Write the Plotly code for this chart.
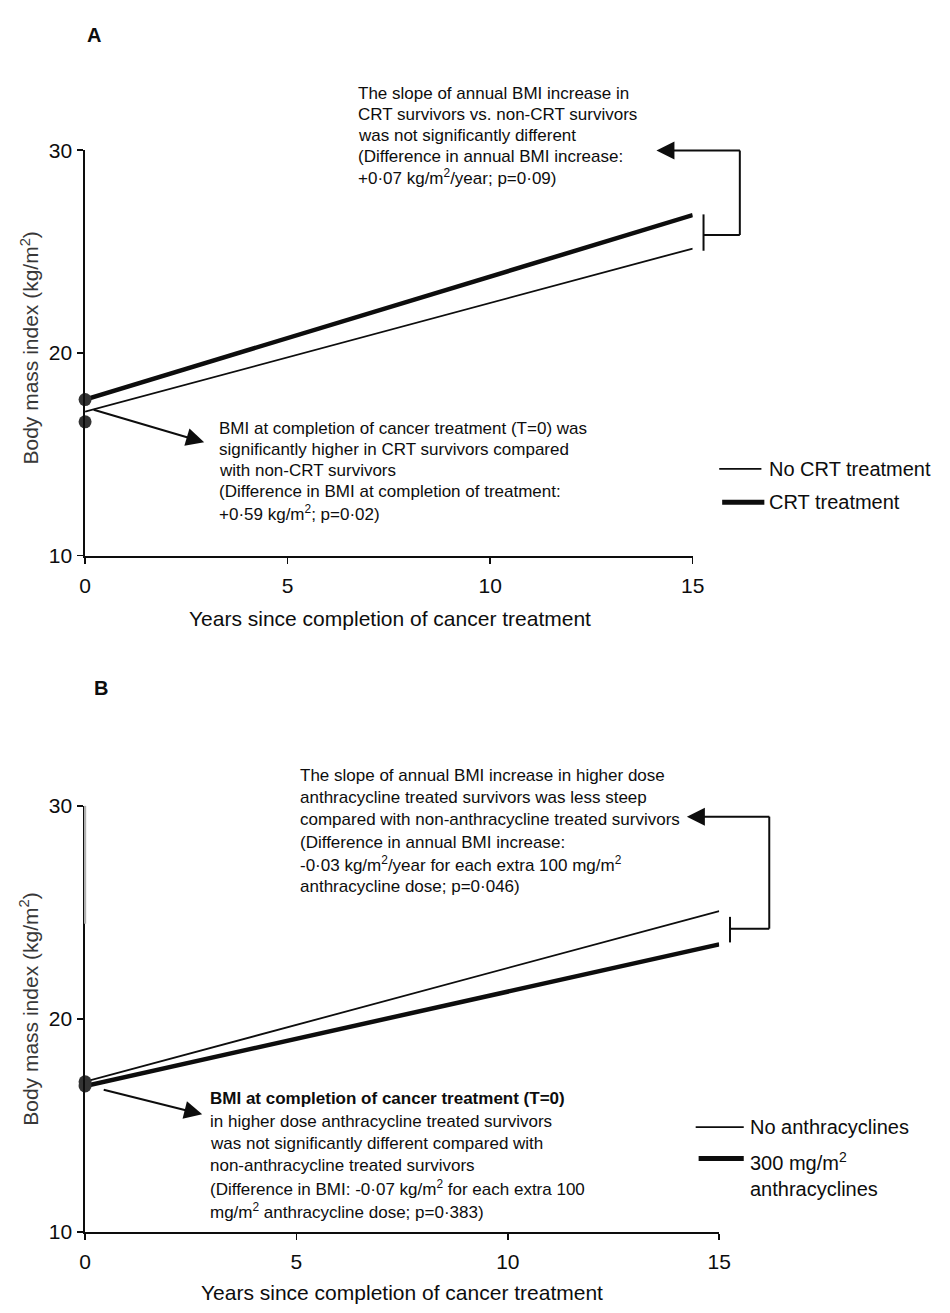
import plotly.graph_objects as go

W, H = 950, 1313

# ---------------- data ----------------
years = [0, 15]
x_ticks = [0, 5, 10, 15]
y_ticks = [10, 20, 30]

# Panel A
bmi_no_crt = [17.1, 25.15]
bmi_crt = [17.7, 26.8]
baseline_dots_a = [17.7, 16.6]

# Panel B
bmi_no_anth = [17.05, 25.06]
bmi_anth_300 = [16.85, 23.5]
baseline_dots_b = [17.05, 16.85]

legend_a = ["No CRT treatment", "CRT treatment"]
legend_b = ["No anthracyclines", "300 mg/m<sup>2</sup><br>anthracyclines"]

# ---------------- helpers ----------------
def px(x):
    return x / W

def py(y):
    return 1 - y / H

FONT = "Liberation Sans, Arial, sans-serif"
INK = "#0d0d0d"

fig = go.Figure()

fig.add_trace(go.Scatter(x=years, y=bmi_no_crt, mode="lines", line=dict(color=INK, width=1.8),
                         xaxis="x", yaxis="y", showlegend=False, cliponaxis=False, hoverinfo="skip"))
fig.add_trace(go.Scatter(x=years, y=bmi_crt, mode="lines", line=dict(color=INK, width=4.5),
                         xaxis="x", yaxis="y", showlegend=False, cliponaxis=False, hoverinfo="skip"))
fig.add_trace(go.Scatter(x=[0, 0], y=baseline_dots_a, mode="markers",
                         marker=dict(color="#333333", size=13), xaxis="x", yaxis="y",
                         showlegend=False, cliponaxis=False, hoverinfo="skip"))

fig.add_trace(go.Scatter(x=years, y=bmi_no_anth, mode="lines", line=dict(color=INK, width=1.8),
                         xaxis="x2", yaxis="y2", showlegend=False, cliponaxis=False, hoverinfo="skip"))
fig.add_trace(go.Scatter(x=years, y=bmi_anth_300, mode="lines", line=dict(color=INK, width=4.5),
                         xaxis="x2", yaxis="y2", showlegend=False, cliponaxis=False, hoverinfo="skip"))
fig.add_trace(go.Scatter(x=[0, 0], y=baseline_dots_b, mode="markers",
                         marker=dict(color="#333333", size=13), xaxis="x2", yaxis="y2",
                         showlegend=False, cliponaxis=False, hoverinfo="skip"))

axis_common = dict(showgrid=False, zeroline=False, showline=True, linecolor=INK,
                   ticks="outside", tickcolor=INK, tickwidth=1.5, ticklen=6,
                   tickfont=dict(family=FONT, size=21, color=INK))

fig.update_layout(
    width=W, height=H, margin=dict(l=0, r=0, t=0, b=0, pad=0),
    paper_bgcolor="white", plot_bgcolor="white",
    xaxis=dict(domain=[px(80.6), px(700)], range=[0, 15], tickvals=x_ticks, anchor="y",
               linewidth=2, ticklabelstandoff=4, **axis_common),
    yaxis=dict(domain=[py(553.3), py(140.7)], range=[10, 30], tickvals=y_ticks, anchor="x",
               linewidth=1.8, ticklabelstandoff=1, **axis_common),
    xaxis2=dict(domain=[px(80.6), px(727)], range=[0, 15], tickvals=x_ticks, anchor="y2",
                linewidth=2, ticklabelstandoff=4, **axis_common),
    yaxis2=dict(domain=[py(1241.7), py(808)], range=[10, 30], tickvals=y_ticks, anchor="x2",
                linewidth=1.8, ticklabelstandoff=1, **axis_common),
)

shapes = []
annos = []

def seg(x0, y0, x1, y1, w=2, color=INK):
    shapes.append(dict(type="line", xref="paper", yref="paper", x0=px(x0), y0=py(y0),
                       x1=px(x1), y1=py(y1), line=dict(color=color, width=w)))

def arrow(tail, tip, w=2, size=1.8):
    annos.append(dict(xref="paper", yref="paper", x=px(tip[0]), y=py(tip[1]),
                      ax=tail[0] - tip[0], ay=tail[1] - tip[1], text="", showarrow=True,
                      arrowhead=2, arrowsize=size, arrowwidth=w, arrowcolor=INK,
                      standoff=0, startstandoff=0))

def text(x, y, s, size=17, xanchor="left", yanchor="middle", angle=0, color=INK, bold=False):
    annos.append(dict(xref="paper", yref="paper", x=px(x), y=py(y), text=(f"<b>{s}</b>" if bold else s),
                      showarrow=False, xanchor=xanchor, yanchor=yanchor, align="left",
                      textangle=angle, font=dict(family=FONT, size=size, color=color)))

def block(x, y_first, spacing, lines, size=17):
    for i, s in enumerate(lines):
        text(x, y_first + i * spacing, s, size=size)

# lighter (scanned) upper part of panel B y-axis
seg(80.6, 808, 80.6, 928, w=2.2, color="#b0b0b0")

# ---- Panel A ----
text(90, 23, "A", size=20, xanchor="center", bold=True)
text(391, 617, "Years since completion of cancer treatment", size=21, xanchor="center")
text(24, 342, "Body mass index (kg/m<sup>2</sup>)", size=21, xanchor="center", angle=-90, color="#383838")

seg(711, 206, 711, 243)
seg(711, 227, 748, 227)
seg(748, 227, 748, 141)
arrow((748, 141), (663, 141))
block(357, 83, 21.2, [
    "The slope of annual BMI increase in",
    "CRT survivors vs. non-CRT survivors",
    "was not significantly different",
    "(Difference in annual BMI increase:",
    "+0·07 kg/m<sup>2</sup>/year; p=0·09)"])

arrow((90, 405), (202, 438))
block(215, 424, 21.4, [
    "BMI at completion of cancer treatment (T=0) was",
    "significantly higher in CRT survivors compared",
    "with non-CRT survivors",
    "(Difference in BMI at completion of treatment:",
    "+0·59 kg/m<sup>2</sup>; p=0·02)"])

seg(727, 465, 770, 465, w=1.8)
text(776, 465, legend_a[0], size=20)
seg(730, 499, 773, 499, w=5)
text(776, 499, legend_a[1], size=20)

# ---- Panel B ----
text(97, 688, "B", size=20, xanchor="center", bold=True)
text(404, 1303, "Years since completion of cancer treatment", size=21, xanchor="center")
text(24, 1015, "Body mass index (kg/m<sup>2</sup>)", size=21, xanchor="center", angle=-90, color="#383838")

seg(738, 921, 738, 947)
seg(738, 933, 778, 933)
seg(778, 933, 778, 819)
arrow((778, 819), (694, 819))
block(298, 777, 22.6, [
    "The slope of annual BMI increase in higher dose",
    "anthracycline treated survivors was less steep",
    "compared with non-anthracycline treated survivors",
    "(Difference in annual BMI increase:",
    "-0·03 kg/m<sup>2</sup>/year for each extra 100 mg/m<sup>2</sup>",
    "anthracycline dose; p=0·046)"])

arrow((100, 1097), (200, 1122))
block(206, 1106, 22.8, [
    "<b>BMI at completion of cancer treatment (T=0)</b>",
    "in higher dose anthracycline treated survivors",
    "was not significantly different compared with",
    "non-anthracycline treated survivors",
    "(Difference in BMI: -0·07 kg/m<sup>2</sup> for each extra 100",
    "mg/m<sup>2</sup> anthracycline dose; p=0·383)"])

seg(703, 1135, 752, 1135, w=1.8)
text(756, 1135, legend_b[0], size=20)
seg(706, 1167, 752, 1167, w=5)
text(756, 1183, legend_b[1], size=20)

fig.update_layout(shapes=shapes, annotations=annos)
fig.write_html("out.html", config={"displayModeBar": False, "staticPlot": True},
               post_script="document.body.style.margin='0px';document.body.style.overflow='hidden';")
